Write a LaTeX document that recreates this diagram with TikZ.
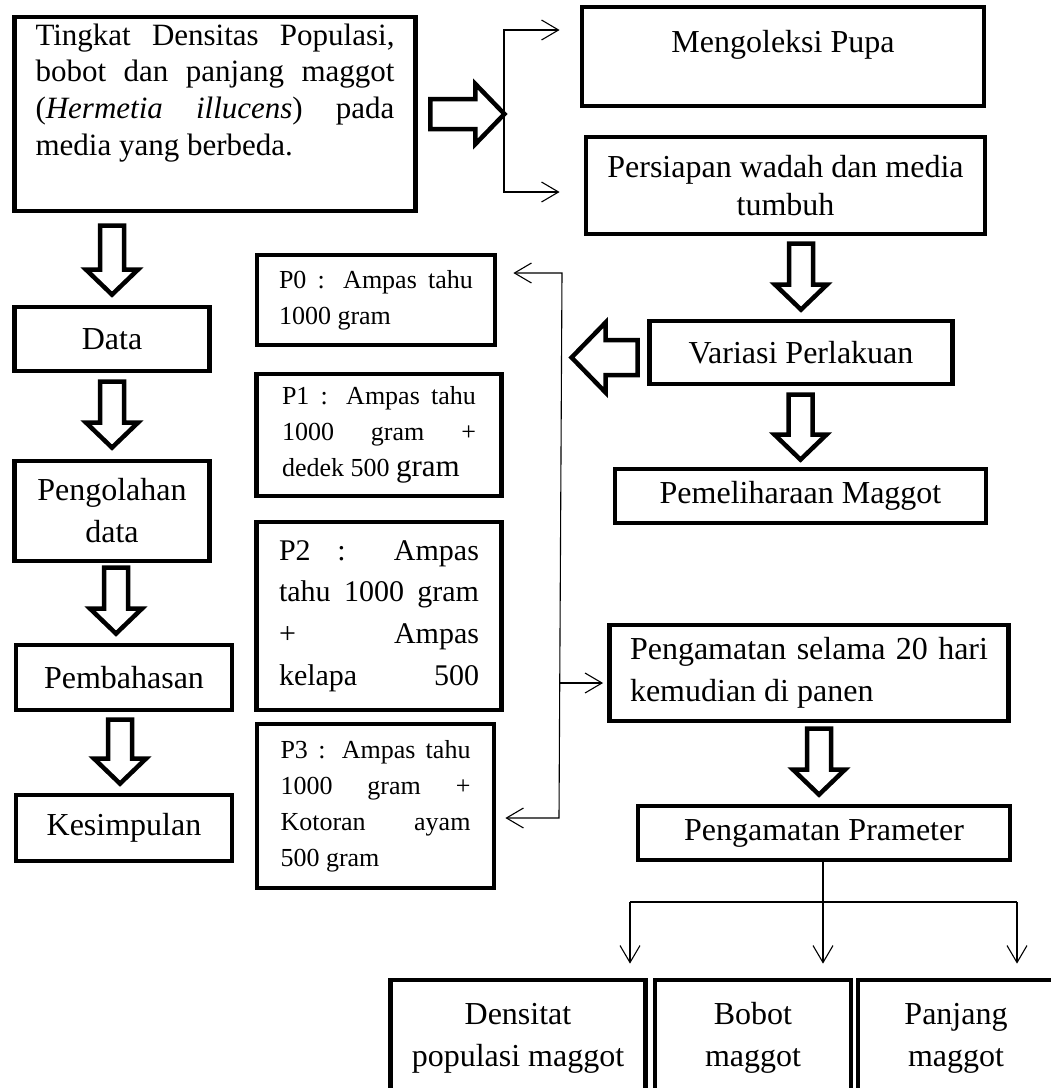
\documentclass[tikz,border=0pt]{standalone}
\usepackage{fontspec}
\setmainfont{Liberation Serif}
\usetikzlibrary{calc,arrows.meta}
\setlength{\parindent}{0pt}

\begin{document}
\begin{tikzpicture}[x=1pt,y=1pt,
  kotak/.style={draw,line width=4.8pt,inner sep=0pt,align=center,font=\fontsize{32}{42}\selectfont},
  perlakuan/.style={kotak,align=justify,text width=194pt,font=\fontsize{26}{36}\selectfont},
  panah/.style={-{Straight Barb[length=17pt,width=20pt]},line width=1.1pt},
  duaarah/.style={{Straight Barb[length=17pt,width=20pt]}-{Straight Barb[length=17pt,width=20pt]},line width=1.1pt},
  blok/.style n args={3}{draw,line width=4.5pt,line join=miter,
    to path={($(\tikztostart)!#1!90:(\tikztotarget)$)
      -- ($(\tikztotarget)!#3!(\tikztostart)!#1!-90:(\tikztostart)$)
      -- ($(\tikztotarget)!#3!(\tikztostart)!#2!-90:(\tikztostart)$)
      -- (\tikztotarget)
      -- ($(\tikztotarget)!#3!(\tikztostart)!#2!90:(\tikztostart)$)
      -- ($(\tikztotarget)!#3!(\tikztostart)!#1!90:(\tikztostart)$)
      -- ($(\tikztostart)!#1!-90:(\tikztotarget)$) -- cycle}},
  turun/.style={blok={12pt}{26pt}{25pt}}
]
\useasboundingbox (0,0) rectangle (1051,-1088);
\clip (0,0) rectangle (1051,-1088);

\node[kotak,minimum width=401pt,minimum height=194pt,font=\fontsize{31}{36.7}\selectfont] (judul) at (215,-114)
  {\parbox[c][181pt][t]{359pt}{Tingkat Densitas Populasi,\linebreak bobot dan panjang maggot\linebreak (\textit{Hermetia illucens}) pada\linebreak media yang berbeda.}};
\node[kotak,minimum width=402pt,minimum height=99pt] (koleksi) at (783,-56.5)
  {\parbox[c][53pt][t]{360pt}{\centering Mengoleksi Pupa}};
\node[kotak,minimum width=399pt,minimum height=97pt,font=\fontsize{32}{38}\selectfont] (wadah) at (785.5,-185.5) {Persiapan wadah dan media\\tumbuh};
\node[kotak,minimum width=303pt,minimum height=63pt] (variasi) at (801,-352.5) {Variasi Perlakuan};
\node[kotak,minimum width=371pt,minimum height=54pt] (pelihara) at (800.5,-496) {Pemeliharaan Maggot};
\node[kotak,minimum width=399pt,minimum height=96pt,align=justify,text width=358pt] (amati) at (809,-673)
  {Pengamatan selama 20 hari\linebreak kemudian di panen};
\node[kotak,minimum width=372pt,minimum height=54pt] (parameter) at (824,-833) {Pengamatan Prameter};

\node[kotak,minimum width=195pt,minimum height=64pt] (data) at (112,-339) {Data};
\node[kotak,minimum width=195pt,minimum height=100pt] (olah) at (112,-511) {Pengolahan\\data};
\node[kotak,minimum width=216pt,minimum height=65pt] (bahas) at (124,-677.5) {Pembahasan};
\node[kotak,minimum width=216pt,minimum height=66pt] (simpul) at (124,-828) {Kesimpulan};

\node[perlakuan,minimum width=238pt,minimum height=90pt] (p0) at (376,-300) {P0 : Ampas tahu\linebreak 1000 gram};
\node[perlakuan,minimum width=245pt,minimum height=122pt] (p1) at (379,-435)
  {P1 : Ampas tahu\linebreak 1000 gram +\linebreak dedek 500 {\fontsize{31}{36}\selectfont gram}};
\node[perlakuan,minimum width=245pt,minimum height=188pt,text width=200pt,font=\fontsize{30}{41.7}\selectfont] (p2) at (379,-616)
  {P2 : Ampas\linebreak tahu 1000 gram\linebreak + Ampas\linebreak kelapa \hfill 500};
\node[perlakuan,minimum width=237pt,minimum height=164pt,text width=190pt] (p3) at (375.5,-806)
  {P3 : Ampas tahu\linebreak 1000 gram +\linebreak Kotoran ayam\linebreak 500 gram};

\node[kotak,minimum width=255pt,minimum height=116pt] (densitas) at (518,-1038) {Densitat\\populasi maggot};
\node[kotak,minimum width=196pt,minimum height=116pt] (bobot) at (753,-1038) {Bobot\\maggot};
\node[kotak,minimum width=196pt,minimum height=116pt] (panjang) at (956,-1038) {Panjang\\maggot};

\draw[blok={15pt}{30pt}{29pt}] ([xshift=12.5pt]judul.east) to ([xshift=86.5pt]judul.east);
\draw[blok={17.5pt}{35pt}{34pt}] ([xshift=-9.5pt,yshift=-5pt]variasi.west) to ([xshift=-75.5pt,yshift=-5pt]variasi.west);
\draw[turun] ([yshift=79pt]data.north) to ([yshift=10pt]data.north);
\draw[turun] ([yshift=77pt]olah.north) to ([yshift=11pt]olah.north);
\draw[turun] ([xshift=-8pt,yshift=75pt]bahas.north) to ([xshift=-8pt,yshift=9pt]bahas.north);
\draw[turun] ([xshift=-4pt,yshift=73pt]simpul.north) to ([xshift=-4pt,yshift=9pt]simpul.north);
\draw[turun] ([yshift=75pt]variasi.north) to ([yshift=9pt]variasi.north);
\draw[turun] ([yshift=72pt]pelihara.north) to ([yshift=7pt]pelihara.north);
\draw[turun] ([xshift=-5pt,yshift=75pt]parameter.north) to ([xshift=-5pt,yshift=9pt]parameter.north);

\coordinate (ka) at (504,-30);
\coordinate (kb) at (504,-192);
\draw[duaarah,shorten <=20pt,shorten >=24pt] (ka -| koleksi.west) -- (ka) -- (kb) -- (kb -| wadah.west);

\coordinate (ba) at (562,-273);
\coordinate (bb) at (559,-818);
\coordinate (bc) at (560,-683);
\draw[duaarah,shorten <=16pt,shorten >=9pt] (ba -| p0.east) -- (ba) -- (bb) -- (bb -| p3.east);
\draw[panah,shorten >=4pt] (bc) -- (bc -| amati.west);

\coordinate (ca) at (630,-902);
\coordinate (cb) at (823,-902);
\coordinate (cc) at (1017,-902);
\draw[line width=1.1pt] (parameter.south -| cb) -- (cb);
\draw[line width=1.1pt] (ca) -- (cc);
\draw[panah,shorten >=14pt] (ca) -- (ca |- densitas.north);
\draw[panah,shorten >=14pt] (cb) -- (cb |- bobot.north);
\draw[panah,shorten >=14pt] (cc) -- (cc |- panjang.north);
\end{tikzpicture}
\end{document}
